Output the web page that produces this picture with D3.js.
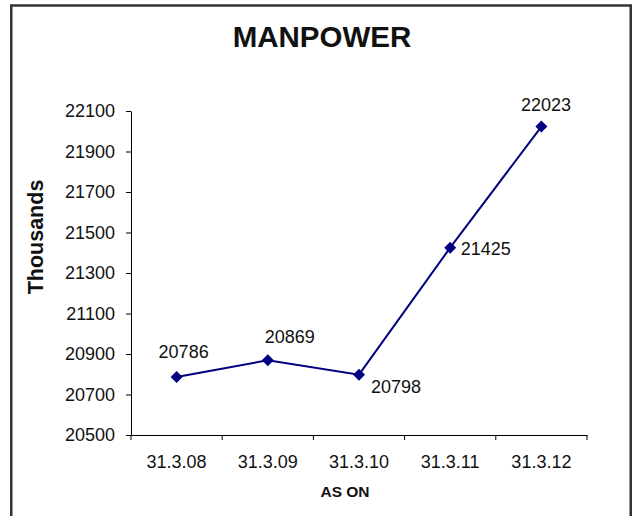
<!DOCTYPE html>
<html>
<head>
<meta charset="utf-8">
<script src="https://cdn.jsdelivr.net/npm/d3@7"></script>
<style>
  html, body { margin: 0; padding: 0; background: #fff; }
  svg { display: block; }
  text { font-family: "Liberation Sans", Arial, sans-serif; fill: #111; }
</style>
</head>
<body>
<svg id="chart" width="634" height="516"></svg>
<script>
// ---- data ----
const categories = ["31.3.08", "31.3.09", "31.3.10", "31.3.11", "31.3.12"];
const values = [20786, 20869, 20798, 21425, 22023];
const yTicks = [20500, 20700, 20900, 21100, 21300, 21500, 21700, 21900, 22100];
const title = "MANPOWER";
const yTitle = "Thousands";
const xTitle = "AS ON";

// ---- layout (not data) ----
const W = 634, H = 516;
const plot = { left: 131, right: 587, top: 111, bottom: 435 };
const labelOffsets = [[-18, -19], [-3, -17.5], [12, 18], [10.5, 7.3], [-20.5, -15.5]];
const lineColor = "#000080";

const svg = d3.select("#chart");
svg.append("rect").attr("x", 0).attr("y", 0).attr("width", W).attr("height", H).attr("fill", "#fff");
svg.append("rect").attr("x", 11.25).attr("y", 5.5).attr("width", 619.5).attr("height", 530)
  .attr("fill", "none").attr("stroke", "#333").attr("stroke-width", 2.5);

const x = d3.scaleBand().domain(categories).range([plot.left, plot.right]).padding(0);
const y = d3.scaleLinear().domain([20500, 22100]).range([plot.bottom, plot.top]);
const cx = c => x(c) + x.bandwidth() / 2;

// title
svg.append("text").attr("x", 322).attr("y", 47).attr("text-anchor", "middle")
  .attr("font-size", 29.5).attr("font-weight", "bold").text(title);

// y axis
const yAxis = d3.axisLeft(y).tickValues(yTicks).tickSize(5).tickSizeOuter(0).tickPadding(11)
  .tickFormat(d3.format("d"));
const gy = svg.append("g").attr("transform", `translate(${plot.left},0)`).call(yAxis);
gy.selectAll("text").attr("font-size", 18).attr("font-family", "'Liberation Sans', Arial, sans-serif").attr("fill", "#111");
gy.selectAll("line, path").attr("stroke", "#000");

// x axis (labels at category centres, ticks at category boundaries)
const xAxis = d3.axisBottom(x).tickSize(0).tickSizeOuter(0).tickPadding(20);
const gx = svg.append("g").attr("transform", `translate(0,${plot.bottom})`).call(xAxis);
gx.selectAll("text").attr("font-size", 18).attr("font-family", "'Liberation Sans', Arial, sans-serif").attr("fill", "#111");
gx.select("path.domain").attr("stroke", "#000");
const boundaries = categories.map(c => x(c)).concat([x.range()[1]]);
gx.selectAll("line.bound").data(boundaries).join("line").attr("class", "bound")
  .attr("x1", d => d).attr("x2", d => d).attr("y1", 0).attr("y2", 5).attr("stroke", "#000");

// axis titles
svg.append("text").attr("transform", `translate(43,237) rotate(-90)`).attr("text-anchor", "middle")
  .attr("font-size", 21.5).attr("font-weight", "bold").text(yTitle);
svg.append("text").attr("x", 345).attr("y", 497).attr("text-anchor", "middle")
  .attr("font-size", 15.5).attr("font-weight", "bold").text(xTitle);

// line
const pts = categories.map((c, i) => [cx(c), y(values[i])]);
svg.append("path").attr("d", d3.line()(pts)).attr("fill", "none")
  .attr("stroke", lineColor).attr("stroke-width", 2);

// markers
svg.selectAll("path.mk").data(pts).join("path").attr("class", "mk")
  .attr("d", d3.symbol(d3.symbolSquare, 72)())
  .attr("transform", d => `translate(${d[0]},${d[1]}) rotate(45)`)
  .attr("fill", lineColor);

// data labels
svg.selectAll("text.dl").data(values).join("text").attr("class", "dl")
  .attr("x", (d, i) => pts[i][0] + labelOffsets[i][0])
  .attr("y", (d, i) => pts[i][1] + labelOffsets[i][1])
  .attr("font-size", 18).text(d => d);
</script>
</body>
</html>
